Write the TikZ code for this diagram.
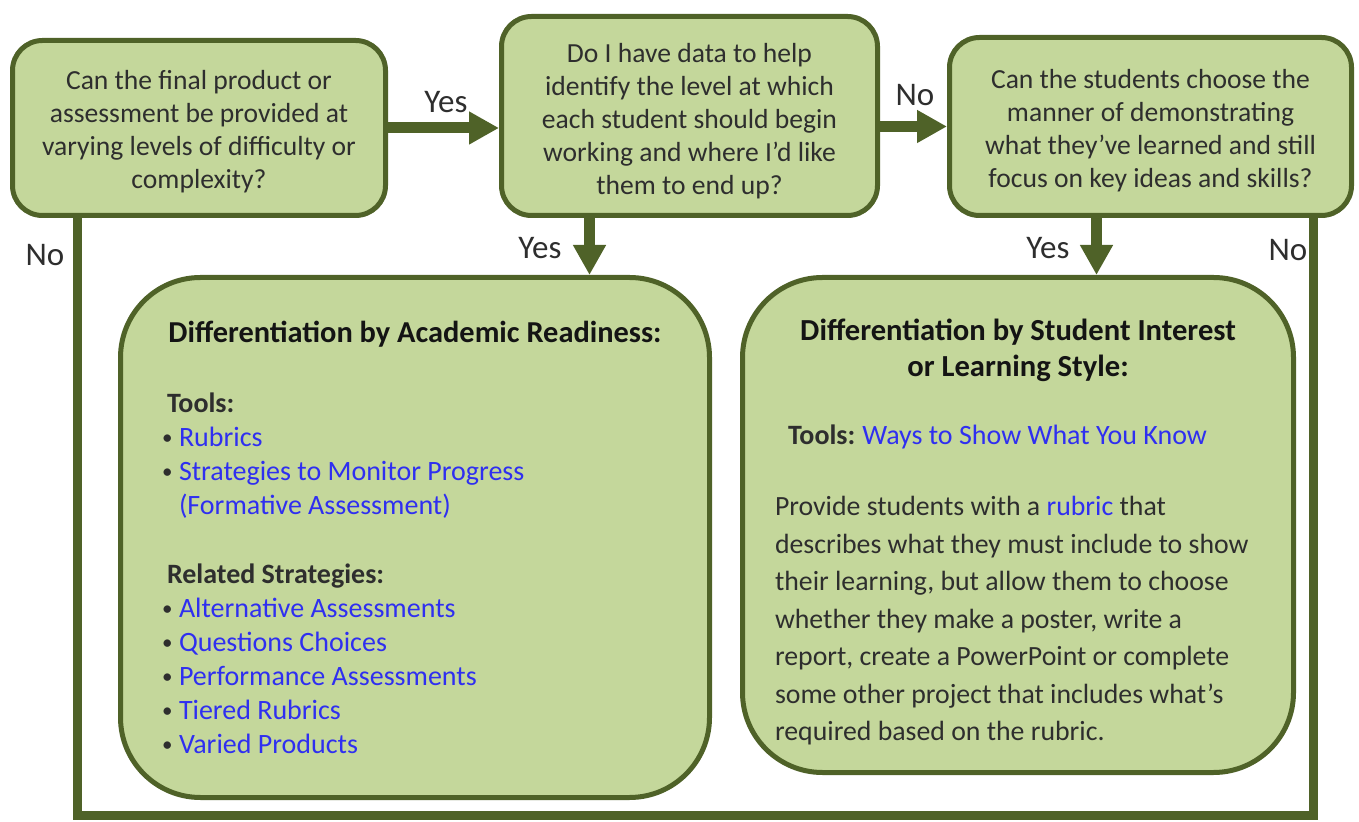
\documentclass[tikz,border=0pt]{standalone}
\usepackage{fontspec}
\setmainfont{Carlito}
\usetikzlibrary{
  arrows.meta,
  positioning
}
\definecolor{boxfill}{HTML}{C4D79B}
\definecolor{boxline}{HTML}{4F6228}
\definecolor{bodytext}{HTML}{2E2E2E}
\definecolor{titletext}{HTML}{141414}
\definecolor{linkblue}{HTML}{2F2FF0}
\newcommand{\weblink}[1]{\textcolor{linkblue}{#1}}
\newcommand{\bulletlink}[1]{\makebox[8.5pt][l]{\raisebox{0.8pt}{\fontsize{10.5}{10.5}\selectfont\textbullet}}\weblink{#1}}
\tikzset{
  question/.style={draw=boxline,fill=boxfill,line width=2.5pt,rounded corners=15pt,
    align=center,text=bodytext,inner sep=0pt,font=\fontsize{13.8}{16.5}\selectfont},
  outcome/.style={draw=boxline,fill=boxfill,line width=2.5pt,rounded corners=40pt,
    text=bodytext,inner sep=0pt},
  flow/.style={draw=boxline,line width=5.5pt,-{Triangle[length=15pt,width=15.5pt]}},
  noline/.style={draw=boxline,line width=4.5pt},
  answer/.style={text=bodytext,inner sep=0pt,font=\fontsize{16.5}{18}\selectfont}
}

\begin{document}
\begin{tikzpicture}[x=0.5pt,y=-0.5pt]
  \useasboundingbox (0,0) rectangle (1359,822);
  \node[question,minimum width=186.5pt,minimum height=87.5pt] (FinalProduct) at (199,128) {
    \rule{0pt}{13.5pt}Can the final product or\\
    assessment be provided at\\
    varying levels of difficulty or\\
    complexity?
  };
  \node[question,minimum width=188pt,minimum height=99.5pt] (HaveData) at (689.5,116) {
    \rule{0pt}{15pt}Do I have data to help\\
    identify the level at which\\
    each student should begin\\
    working and where I’d like\\
    them to end up?
  };
  \node[question,minimum width=201pt,minimum height=89pt] (StudentChoice) at (1150.5,126.5) {
    \rule{0pt}{13.5pt}Can the students choose the\\
    manner of demonstrating\\
    what they’ve learned and still\\
    focus on key ideas and skills?
  };
  \node[outcome,minimum width=294.5pt,minimum height=260pt] (Readiness) at (415,537.5) {
    \begin{minipage}{253pt}
      \fontsize{14}{17}\selectfont
      \centering{\fontsize{15.2}{17}\bfseries\color{titletext}Differentiation by Academic Readiness:}\par
      \vspace{18pt}
      \raggedright
      \hspace*{2.5pt}\textbf{Tools:}\\
      \bulletlink{Rubrics}\\
      \bulletlink{Strategies to Monitor Progress}\\
      \hspace*{8.5pt}\weblink{(Formative Assessment)}\\[17.5pt]
      \hspace*{2.5pt}\textbf{Related Strategies:}\\
      \bulletlink{Alternative Assessments}\\
      \bulletlink{Questions Choices}\\
      \bulletlink{Performance Assessments}\\
      \bulletlink{Tiered Rubrics}\\
      \bulletlink{Varied Products}
    \end{minipage}
  };
  \node[outcome,minimum width=275.5pt,minimum height=247.5pt] (Interest) at (1018,525) {
    \begin{minipage}{243pt}
      \vspace*{7pt}
      \fontsize{14}{18}\selectfont
      \centering{\fontsize{15.3}{18}\bfseries\color{titletext}Differentiation by Student Interest\\
        or Learning Style:}\par
      \vspace{16pt}
      \raggedright
      \hspace*{6.5pt}\textbf{Tools:}\hspace{3.5pt}\weblink{Ways to Show What You Know}\par
      \vspace{17pt}
      \fontsize{13.9}{18.75}\selectfont
      Provide students with a \weblink{rubric} that\\
      describes what they must include to show\\
      their learning, but allow them to choose\\
      whether they make a poster, write a\\
      report, create a PowerPoint or complete\\
      some other project that includes what’s\\
      required based on the rubric.
    \end{minipage}
  };
  \coordinate (LeftCorner) at (77,815);
  \coordinate (RightCorner) at (1313,815);
  \node[answer] (YesData) at (446,102) {Yes};
  \node[answer] (NoData) at (915,95) {No};
  \node[answer] (YesReadiness) at (540,248) {Yes};
  \node[answer] (YesInterest) at (1048,248) {Yes};
  \node[answer] (NoLeft) at (45,255) {No};
  \node[answer] (NoRight) at (1288,250) {No};
  \draw[noline] (FinalProduct.south -| LeftCorner) -- (LeftCorner) -- (RightCorner)
    -- (RightCorner |- StudentChoice.south);
  \draw[flow] (FinalProduct.east) -- (FinalProduct.east -| HaveData.west);
  \draw[flow] (HaveData.east |- StudentChoice.west) -- (StudentChoice.west);
  \draw[flow] ([xshift=-50pt]HaveData.south) -- ([xshift=-50pt]HaveData.south |- Readiness.north);
  \draw[flow] ([xshift=-27pt]StudentChoice.south) -- ([xshift=-27pt]StudentChoice.south |- Interest.north);
\end{tikzpicture}
\end{document}
